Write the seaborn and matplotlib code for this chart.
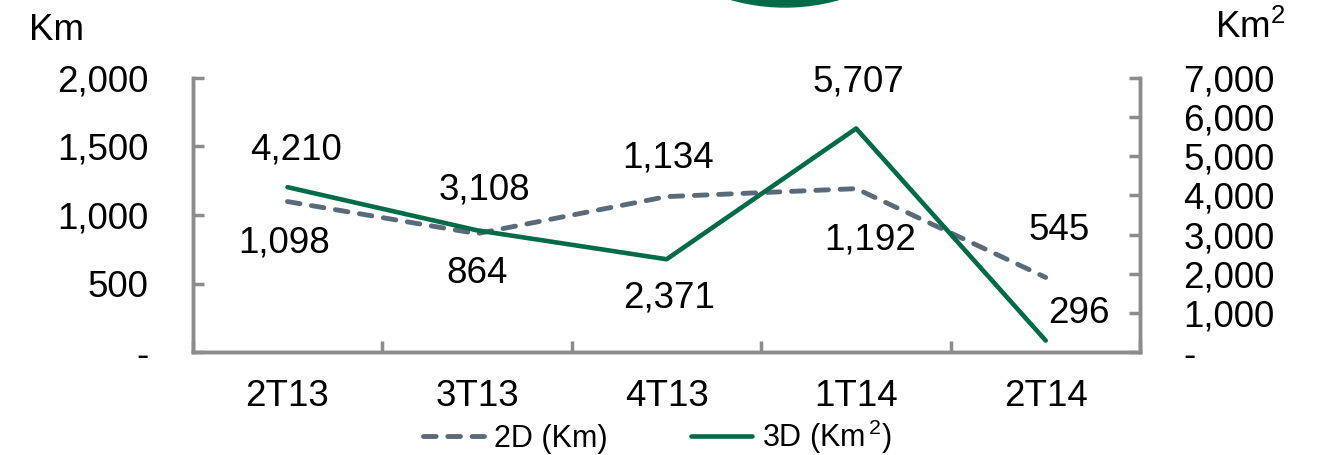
import seaborn as sns
import matplotlib.pyplot as plt
import numpy as np
import pandas as pd
from matplotlib.patches import Ellipse
from matplotlib.ticker import FuncFormatter

# data
quarters = ['2T13', '3T13', '4T13', '1T14', '2T14']
seismic_2d_km = [1098, 864, 1134, 1192, 545]
seismic_3d_km2 = [4210, 3108, 2371, 5707, 296]
left_ticks = [0, 500, 1000, 1500, 2000]
right_ticks = [0, 1000, 2000, 3000, 4000, 5000, 6000, 7000]

GREY = '#5b6a78'
GREEN = '#006b47'
SPINE = '#8c8c8c'
FS = 26.5

sns.set_theme(style='white')
plt.rcParams['font.family'] = ['Liberation Sans', 'DejaVu Sans']
plt.rcParams.update({'text.color': 'black',
                     'mathtext.fontset': 'custom',
                     'mathtext.rm': 'Liberation Sans',
                     'mathtext.it': 'Liberation Sans',
                     'mathtext.default': 'regular'})

df = pd.DataFrame({'quarter': quarters, 'pos': np.arange(len(quarters)),
                   'd2': seismic_2d_km, 'd3': seismic_3d_km2})


def fmt(v, _=None):
    return '-' if v == 0 else '{:,.0f}'.format(v)


fig = plt.figure(figsize=(13.2, 4.55), dpi=100)
ax = fig.add_axes([0.146, 0.226, 0.718, 0.603])
ax2 = ax.twinx()

sns.lineplot(data=df, x='pos', y='d2', ax=ax, color=GREY, lw=3.5,
             linestyle=(0, (2.6, 2.4)), dash_capstyle='round',
             label='2D (Km)', legend=False)
sns.lineplot(data=df, x='pos', y='d3', ax=ax2, color=GREEN, lw=3.3,
             solid_capstyle='round', label='3D (Km$^{\\,2}$)', legend=False)

ax.set_xlim(-0.5, len(quarters) - 0.5)
ax.set_ylim(0, 2000)
ax2.set_ylim(0, 7000)
ax.set_xticks(df['pos'])
ax.set_xticklabels(quarters)
ax.set_xticks(np.arange(len(quarters) + 1) - 0.5, minor=True)
ax.set_yticks(left_ticks)
ax2.set_yticks(right_ticks)
ax.yaxis.set_major_formatter(FuncFormatter(fmt))
ax2.yaxis.set_major_formatter(FuncFormatter(fmt))
ax.set_xlabel('')
ax.set_ylabel('')
ax2.set_ylabel('')

for a in (ax, ax2):
    for s in a.spines.values():
        s.set_color(SPINE)
        s.set_linewidth(2.5)
    a.spines['top'].set_visible(False)

ax.tick_params(axis='x', which='major', length=0, labelsize=FS, pad=19,
               labelcolor='black')
ax.tick_params(axis='x', which='minor', direction='in', length=8, width=2.5,
               color=SPINE, bottom=True)
ax.tick_params(axis='y', direction='in', length=8, width=2.5, color=SPINE,
               labelsize=FS, pad=32, left=True, labelcolor='black')
ax2.tick_params(axis='y', direction='in', length=8, width=2.5, color=SPINE,
                labelsize=FS, pad=31, right=True, labelcolor='black')
for lbl in ax2.get_yticklabels():
    lbl.set_horizontalalignment('left')

# value labels (offsets in pixels)
off_2d = [(-3, -41), (0, -40), (2, 39), (14, -51), (13, 47)]
off_3d = [(9, 37), (7, 40), (2, -39), (2, 46), (33, 27)]
for x, v, o in zip(df['pos'], seismic_2d_km, off_2d):
    ax.annotate(fmt(v), (x, v), xytext=o, textcoords='offset pixels',
                ha='center', va='center', fontsize=FS)
for x, v, o in zip(df['pos'], seismic_3d_km2, off_3d):
    ax2.annotate(fmt(v), (x, v), xytext=o, textcoords='offset pixels',
                 ha='center', va='center', fontsize=FS)

fig.text(56 / 1320, 1 - 30 / 455, 'Km', ha='center', va='center', fontsize=FS)
fig.text(1250 / 1320, 1 - 28 / 455, 'Km$^{2}$', ha='center', va='center', fontsize=FS)

# decorative green disc cut by the top edge
fig.add_artist(Ellipse((785 / 1320, 1 + 190 / 455), 394 / 1320, 394 / 455,
                       transform=fig.transFigure, color=GREEN, clip_on=False))

h1, l1 = ax.get_legend_handles_labels()
h2, l2 = ax2.get_legend_handles_labels()
fig.legend(h1 + h2, l1 + l2, loc='center', bbox_to_anchor=(0.498, 1 - 437 / 455),
           ncol=2, frameon=False, fontsize=22, handlelength=2.0,
           columnspacing=2.7, handletextpad=0.35)

fig.savefig('out.png', dpi=100)
